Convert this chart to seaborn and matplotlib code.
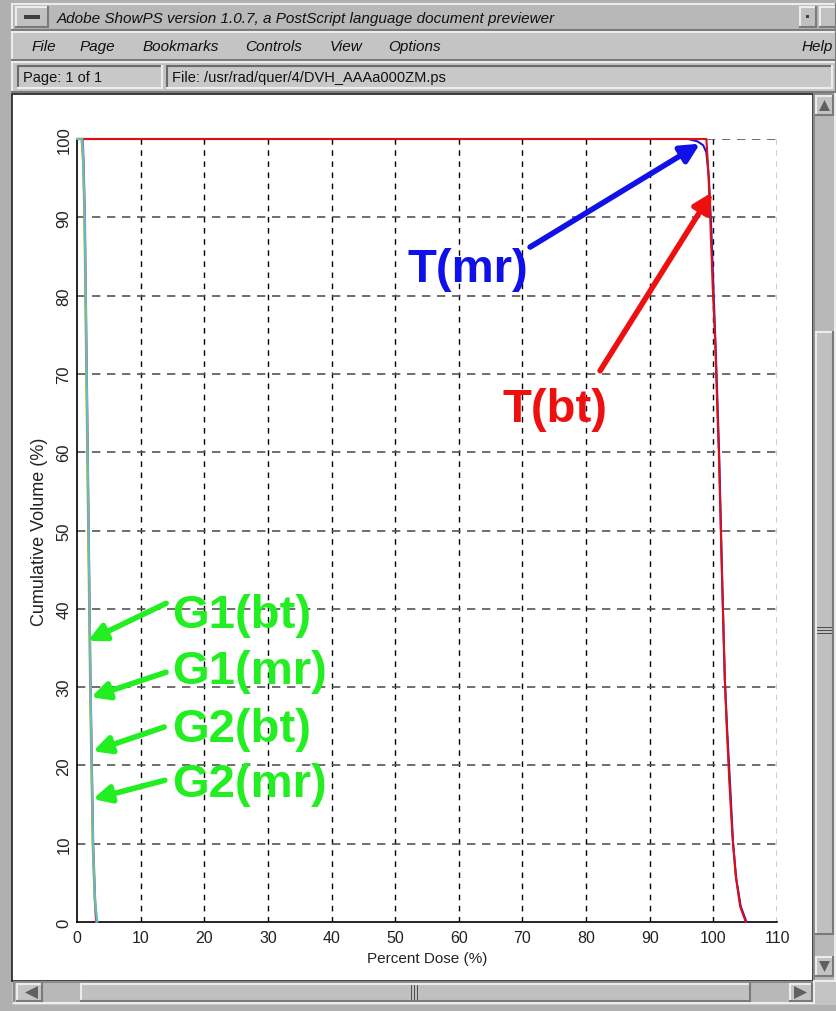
import numpy as np
import pandas as pd
import matplotlib
matplotlib.use("Agg")
import matplotlib.pyplot as plt
from matplotlib.patches import Rectangle, Polygon
import seaborn as sns

# ---------------- data ----------------
t_mr_dose = [0, 96.0, 97.5, 98.4, 98.9, 99.3, 99.7, 100.1, 100.5, 100.9, 101.2, 101.5,
             101.8, 102.2, 102.6, 103.1, 103.6, 104.3, 105.2]
t_mr_vol = [100, 100, 99.7, 99.2, 98.3, 95, 88, 79, 70, 60, 50, 40,
            31, 24, 18, 10, 5.5, 2, 0]

t_bt_dose = [0, 98.9, 99.2, 99.5, 99.9, 100.3, 100.6, 100.9, 101.2, 101.5, 101.8,
             102.1, 102.5, 103.0, 103.5, 104.2, 105.1]
t_bt_vol = [100, 100, 96, 90, 81, 74, 66, 59, 49, 40, 31, 25, 18, 11, 6, 2, 0]

g1_bt_dose = [0, 0.8, 1.0, 1.2, 1.35, 1.5, 1.65, 1.8, 1.95, 2.1, 2.3, 2.5, 2.8, 3.0]
g1_bt_vol = [100, 100, 97, 90, 80, 70, 60, 50, 40, 30, 20, 10, 3, 0]

g1_mr_dose = [0, 0.7, 0.95, 1.15, 1.3, 1.45, 1.6, 1.75, 1.9, 2.05, 2.25, 2.45, 2.75, 3.1]
g1_mr_vol = [100, 100, 97, 90, 80, 70, 60, 50, 40, 30, 20, 10, 3, 0]

g2_bt_dose = [0, 0.9, 1.05, 1.25, 1.4, 1.55, 1.7, 1.85, 2.0, 2.15, 2.35, 2.55, 2.85, 3.0]
g2_bt_vol = [100, 100, 97, 90, 80, 70, 60, 50, 40, 30, 20, 10, 3, 0]

g2_mr_dose = [0, 0.8, 1.0, 1.2, 1.38, 1.52, 1.68, 1.82, 1.98, 2.12, 2.32, 2.52, 2.82, 3.2]
g2_mr_vol = [100, 100, 97, 90, 80, 70, 60, 50, 40, 30, 20, 10, 3, 0]

curve_names = ["T(mr)", "T(bt)", "G1(bt)", "G1(mr)", "G2(bt)", "G2(mr)"]
curve_colors = ["#1a1adc", "#e01010", "#30c030", "#c8b400", "#d040a0", "#60c0c0"]

x_ticks = list(range(0, 111, 10))
y_ticks = list(range(0, 101, 10))

frames = []
for name, d, v in zip(curve_names,
                      [t_mr_dose, t_bt_dose, g1_bt_dose, g1_mr_dose, g2_bt_dose, g2_mr_dose],
                      [t_mr_vol, t_bt_vol, g1_bt_vol, g1_mr_vol, g2_bt_vol, g2_mr_vol]):
    frames.append(pd.DataFrame({"dose": d, "vol": v, "curve": name}))
df = pd.concat(frames, ignore_index=True)

# ---------------- figure & window chrome ----------------
W, H = 836, 1012
fig = plt.figure(figsize=(W / 100, H / 100), dpi=100, facecolor="#c4c4c4")
plt.rcParams["font.family"] = ["Liberation Sans", "DejaVu Sans"]
UI_FONT = ["Liberation Sans Narrow", "Liberation Sans", "DejaVu Sans"]


def rect(x0, y0, x1, y1, fc, ec="none", lw=0, z=0):
    fig.patches.append(Rectangle((x0 / W, 1 - y1 / H), (x1 - x0) / W, (y1 - y0) / H,
                                 transform=fig.transFigure, facecolor=fc, edgecolor=ec,
                                 linewidth=lw, zorder=z))


def bevel(x0, y0, x1, y1, fc="#c0c0c0", light="#ececec", dark="#7a7a7a", lw=1.5, z=1):
    rect(x0, y0, x1, y1, fc, z=z)
    for (xa, ya, xb, yb, c) in [(x0, y0, x1, y0, light), (x0, y0, x0, y1, light),
                                (x0, y1, x1, y1, dark), (x1, y0, x1, y1, dark)]:
        fig.add_artist(plt.Line2D([xa / W, xb / W], [1 - ya / H, 1 - yb / H], color=c,
                                  lw=lw, transform=fig.transFigure, zorder=z + 0.1))


def ftext(x, y, s, **kw):
    fig.text(x / W, 1 - y / H, s, transform=fig.transFigure, **kw)


def tri(points, color="#606060"):
    fig.patches.append(Polygon([(px / W, 1 - py / H) for px, py in points], closed=True,
                               transform=fig.transFigure, facecolor=color, edgecolor="none",
                               zorder=3))


# outer frame
rect(0, 0, 12, H, "#b0b0b0")
rect(0, 0, W, 4, "#b0b0b0")
rect(0, 1006, W, H, "#b0b0b0")

# title bar
bevel(12, 5, 836, 31, fc="#b8b8b8")
bevel(16, 8, 48, 28, fc="#c0c0c0")
rect(24, 16, 40, 20, "#404040", z=3)
ftext(57, 18.5, "Adobe ShowPS version 1.0.7, a PostScript language document previewer",
      fontsize=11, style="italic", va="center", ha="left", color="#111111",
      family=UI_FONT, zorder=5)
bevel(800, 8, 816, 28, fc="#c0c0c0")
rect(806, 16, 809, 19, "#404040", z=3)
bevel(820, 8, 836, 28, fc="#c0c0c0")

# menu bar
bevel(12, 33, 836, 61, fc="#c4c4c4")
menu_items = [("File", 32), ("Page", 80), ("Bookmarks", 143), ("Controls", 245),
              ("View", 330), ("Options", 388), ("Help", 802)]
for label, mx in menu_items:
    ftext(mx, 47, label, fontsize=11, style="italic", va="center", ha="left",
          color="#111111", family=UI_FONT, zorder=5)

# status fields
bevel(12, 63, 836, 93, fc="#c4c4c4")
bevel(18, 67, 162, 89, fc="#c8c8c8", light="#6a6a6a", dark="#eeeeee")
bevel(167, 67, 832, 89, fc="#c8c8c8", light="#6a6a6a", dark="#eeeeee")
ftext(23, 78, "Page: 1 of 1", fontsize=10.5, va="center", ha="left", color="#111111",
      family=UI_FONT, zorder=5)
ftext(172, 78, "File: /usr/rad/quer/4/DVH_AAAa000ZM.ps", fontsize=10.5, va="center",
      ha="left", color="#111111", family=UI_FONT, zorder=5)

# page area
rect(12, 95, 813, 982, "white", ec="#202020", lw=1.2, z=1)

# vertical scrollbar
bevel(814, 95, 835, 982, fc="#b8b8b8", light="#8a8a8a", dark="#eeeeee")
bevel(816, 97, 833, 116, fc="#c4c4c4")
tri([(819, 112), (830, 112), (824.5, 101)])
bevel(816, 333, 833, 935, fc="#c0c0c0")
for yy in (628, 631, 634):
    rect(817, yy, 832, yy + 1, "#505050", z=3)
bevel(816, 958, 833, 977, fc="#c4c4c4")
tri([(819, 962), (830, 962), (824.5, 973)])

# horizontal scrollbar
bevel(14, 983, 814, 1004, fc="#b8b8b8", light="#8a8a8a", dark="#eeeeee")
bevel(17, 985, 42, 1002, fc="#c4c4c4")
tri([(38, 987), (38, 1000), (25, 993.5)])
bevel(81, 985, 750, 1002, fc="#c0c0c0")
for xx in (411, 414, 417):
    rect(xx, 986, xx + 1, 1001, "#505050", z=3)
bevel(790, 985, 812, 1002, fc="#c4c4c4")
tri([(794, 987), (794, 1000), (807, 993.5)])

# ---------------- the chart ----------------
sns.set_style("white")
plt.rcParams["font.family"] = ["Liberation Sans", "DejaVu Sans"]

ax_left, ax_right, ax_top, ax_bottom = 77, 777, 140, 923
ax = fig.add_axes([ax_left / W, 1 - ax_bottom / H, (ax_right - ax_left) / W,
                   (ax_bottom - ax_top) / H])
ax.set_zorder(5)
ax.patch.set_alpha(0)

sns.lineplot(data=df, x="dose", y="vol", hue="curve", hue_order=curve_names,
             palette=dict(zip(curve_names, curve_colors)), estimator=None,
             sort=False, legend=False, linewidth=1.5, ax=ax)
for line in ax.get_lines():
    line.set_zorder(3)
    line.set_clip_on(False)

ax.set_xlim(0, 110)
ax.set_ylim(0, 100)
ax.set_xticks(x_ticks)
ax.set_yticks(y_ticks)
ax.set_xticklabels([str(t) for t in x_ticks], fontsize=11.5, color="#222222")
ax.set_yticklabels([str(t) for t in y_ticks], fontsize=12, color="#222222",
                   rotation=90, va="center")
ax.tick_params(axis="both", direction="in", length=5, width=1, color="black", pad=4)
ax.tick_params(axis="x", pad=6)

for xv in x_ticks[1:]:
    ax.axvline(xv, color="black", lw=1.0, ls=(0, (4, 4)), zorder=1)
for yv in y_ticks[1:]:
    ax.axhline(yv, color="#555555", lw=1.2, ls=(0, (5, 4)), zorder=1)

for side in ("top", "right"):
    ax.spines[side].set_visible(False)
for side in ("left", "bottom"):
    ax.spines[side].set_color("black")
    ax.spines[side].set_linewidth(1.2)

ax.set_xlabel("Percent Dose (%)", fontsize=11, color="#222222", labelpad=4)
ax.set_ylabel("Cumulative Volume (%)", fontsize=13, color="#222222", labelpad=6)

# ---------------- annotations ----------------
bold = dict(fontsize=34, fontweight="bold", family=["Liberation Sans", "DejaVu Sans"])

ax.annotate("", xy=(97.9, 99.4), xytext=(71.2, 86.2),
            arrowprops=dict(arrowstyle="-|>", lw=4, color="#1010e8", mutation_scale=28,
                            shrinkA=0, shrinkB=0), zorder=6)
ax.text(61.4, 83.4, "T(mr)", color="#1010e8", ha="center", va="center", zorder=6, **bold)

ax.annotate("", xy=(99.8, 93.2), xytext=(82.2, 70.4),
            arrowprops=dict(arrowstyle="-|>", lw=4, color="#ee1010", mutation_scale=28,
                            shrinkA=0, shrinkB=0), zorder=6)
ax.text(75.1, 65.5, "T(bt)", color="#ee1010", ha="center", va="center", zorder=6, **bold)

g_labels = ["G1(bt)", "G1(mr)", "G2(bt)", "G2(mr)"]
g_text_y = [39.2, 32.1, 24.6, 17.6]
g_tail = [(14.0, 40.7), (14.0, 31.9), (13.7, 24.9), (13.8, 18.1)]
g_head = [(1.7, 35.9), (2.2, 28.7), (2.5, 21.8), (2.5, 15.7)]
for lab, ty, tl, hd in zip(g_labels, g_text_y, g_tail, g_head):
    ax.annotate("", xy=hd, xytext=tl,
                arrowprops=dict(arrowstyle="-|>", lw=4, color="#22ee22", mutation_scale=26,
                                shrinkA=0, shrinkB=0), zorder=6)
    ax.text(14.9, ty, lab, color="#22ee22", ha="left", va="center", zorder=6, **bold)

fig.savefig("out.png", dpi=100, facecolor=fig.get_facecolor())
